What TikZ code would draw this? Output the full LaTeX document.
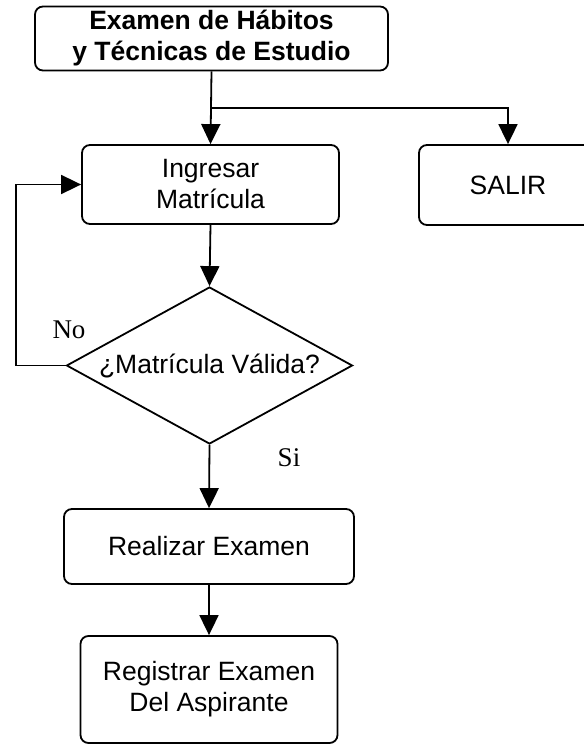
\documentclass[tikz,border=0pt]{standalone}
\usepackage{fontspec}
\setmainfont{Liberation Sans}
\newfontfamily\labelfont{Liberation Serif}
\usetikzlibrary{shapes.geometric,calc}
\usetikzlibrary{arrows.meta}
\tikzset{
  every picture/.style={
    line width=1.8pt,
    >={Triangle[width=19pt, length=20pt]}
  },
  box/.style={
    draw, rounded corners=8pt, align=center,
    inner sep=0pt, font=\fontsize{26.5}{31}\selectfont
  },
  decision/.style={
    draw, diamond, aspect=1.82, inner sep=0pt,
    minimum width=286pt, minimum height=157pt,
    font=\fontsize{26.5}{31}\selectfont
  },
  answer/.style={
    font=\labelfont\fontsize{27}{30}\selectfont
  }
}

\begin{document}
\begin{tikzpicture}[x=1pt,y=-1pt]
      \useasboundingbox (0,0) rectangle (583,746);
      \node [box,font=\bfseries\fontsize{26.5}{31}\selectfont,
        minimum width=353pt,minimum height=64pt] (exam) at (211.5,38.5)
        {Examen de Hábitos\\y Técnicas de Estudio};
      \node [box,minimum width=257pt,minimum height=79pt] (ingresar)
        at (210.5,184.5) {Ingresar\\Matrícula};
      \node [box,minimum width=178pt,minimum height=80pt] (salir)
        at (508,185) {SALIR};
      \node [decision] (valida) at (209.5,365.5) {¿Matrícula Válida?};
      \node [box,minimum width=290pt,minimum height=75pt] (realizar)
        at (209,546.5) {Realizar Examen};
      \node [box,minimum width=257pt,minimum height=107pt] (registrar)
        at (209,689.5) {Registrar Examen\\Del Aspirante};
      \node [answer] (lblno) at (69,330) {No};
      \node [answer] (lblsi) at (289,458) {Si};
      % fork towards SALIR
      \coordinate (fork) at ($(exam.south)!.5!(ingresar.north)$);
      \draw [->] (exam.south) -- (ingresar.north);
      \draw [->] (fork) -| (salir.north);
      \draw [->] (ingresar.south) -- (valida.north);
      \draw [->] (valida.west) -- ++(-50,0) |- (ingresar.west);
      \draw [->] (valida.south) -- (realizar.north);
      \draw [->] (realizar.south) -- (registrar.north);
    \end{tikzpicture}
\end{document}
